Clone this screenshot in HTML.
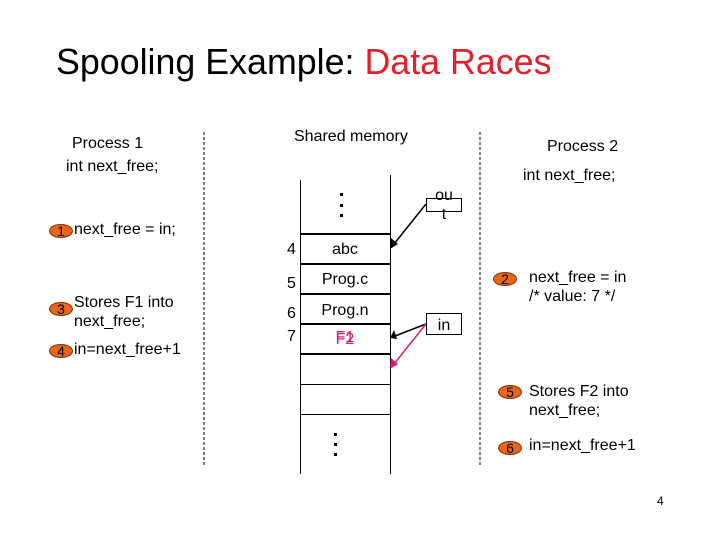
<!DOCTYPE html>
<html><head><style>
body{margin:0;width:720px;height:540px;background:#fff;position:relative;font-family:"Liberation Sans",sans-serif;overflow:hidden}
.t{position:absolute;font-size:16px;color:#000;white-space:nowrap;line-height:19px}
.b{position:absolute;width:22px;height:12px;border-radius:50%;background:#e8651c;border:1px solid #7a3000;font-size:14px;line-height:12px;text-align:center;color:#000}
</style></head><body>
<div class="t" style="left:56px;top:41px;font-size:35.8px;line-height:42px">Spooling Example: <span style="color:#e0202a">Data Races</span></div>
<div class="t" style="left:72px;top:134px">Process 1</div>
<div class="t" style="left:66px;top:157px">int next_free;</div>
<div class="t" style="left:294px;top:127px">Shared memory</div>
<div class="t" style="left:547px;top:137px">Process 2</div>
<div class="t" style="left:523px;top:166px">int next_free;</div>

<div class="b" style="left:49px;top:224px">1</div>
<div class="t" style="left:74px;top:220px">next_free = in;</div>
<div class="b" style="left:49px;top:302px">3</div>
<div class="t" style="left:74px;top:293px">Stores F1 into<br>next_free;</div>
<div class="b" style="left:49px;top:344px">4</div>
<div class="t" style="left:74px;top:340px">in=next_free+1</div>

<div class="b" style="left:493px;top:272px">2</div>
<div class="t" style="left:529px;top:268px">next_free = in<br>/* value: 7 */</div>
<div class="b" style="left:498px;top:385px">5</div>
<div class="t" style="left:529px;top:382px">Stores F2 into<br>next_free;</div>
<div class="b" style="left:498px;top:441px">6</div>
<div class="t" style="left:529px;top:436px">in=next_free+1</div>

<svg width="720" height="540" style="position:absolute;left:0;top:0">
<line x1="204" y1="132" x2="204" y2="466" stroke="#000" stroke-dasharray="3,2"/>
<line x1="480" y1="132" x2="480" y2="466" stroke="#000" stroke-dasharray="3,2"/>
<line x1="300.5" y1="180" x2="300.5" y2="474" stroke="#000"/>
<line x1="390.5" y1="175" x2="390.5" y2="474" stroke="#000"/>
<g stroke="#000" stroke-width="2">
<line x1="300" y1="234" x2="390" y2="234"/><line x1="300" y1="264" x2="390" y2="264"/>
<line x1="300" y1="294" x2="390" y2="294"/><line x1="300" y1="324" x2="390" y2="324"/>
<line x1="300" y1="354" x2="390" y2="354"/></g>
<line x1="300" y1="384.5" x2="390" y2="384.5" stroke="#000"/>
<line x1="300" y1="414.5" x2="390" y2="414.5" stroke="#000"/>
<g fill="#000"><rect x="340" y="193" width="3" height="3"/><rect x="340" y="204" width="3" height="3"/><rect x="340" y="214" width="3" height="3"/>
<rect x="334" y="433" width="3" height="3"/><rect x="334" y="443" width="3" height="3"/><rect x="334" y="453" width="3" height="3"/></g>
<rect x="426.5" y="198.5" width="35" height="13" fill="#fff" stroke="#000"/>
<rect x="426.5" y="313.5" width="35" height="21" fill="#fff" stroke="#000"/>
<g stroke="#000" stroke-width="1.5"><line x1="426" y1="204" x2="394" y2="244"/><line x1="426" y1="324" x2="395" y2="336"/></g>
<polygon points="390,249 391,238 398,244" fill="#000"/>
<polygon points="390,338 394,330 397,339" fill="#000"/>
<line x1="426" y1="324" x2="394" y2="364" stroke="#d0207a" stroke-width="1.5"/>
<polygon points="390,369 391,358 398,364" fill="#d0207a"/>
<g font-family="Liberation Sans,sans-serif" font-size="16">
<text x="287" y="254">4</text><text x="287" y="288">5</text><text x="287" y="318">6</text><text x="287" y="341">7</text>
<text x="345" y="254" text-anchor="middle">abc</text><text x="345" y="284" text-anchor="middle">Prog.c</text>
<text x="345" y="315" text-anchor="middle">Prog.n</text>
<text x="345" y="342" text-anchor="middle" fill="#d0207a">F1</text><text x="345" y="344" text-anchor="middle" fill="#d0207a">F2</text>
<text x="444" y="200" text-anchor="middle">ou</text><text x="444" y="219" text-anchor="middle">t</text>
<text x="444" y="330" text-anchor="middle">in</text>
<text x="657" y="505" font-size="12">4</text></g>
</svg>
</body></html>
